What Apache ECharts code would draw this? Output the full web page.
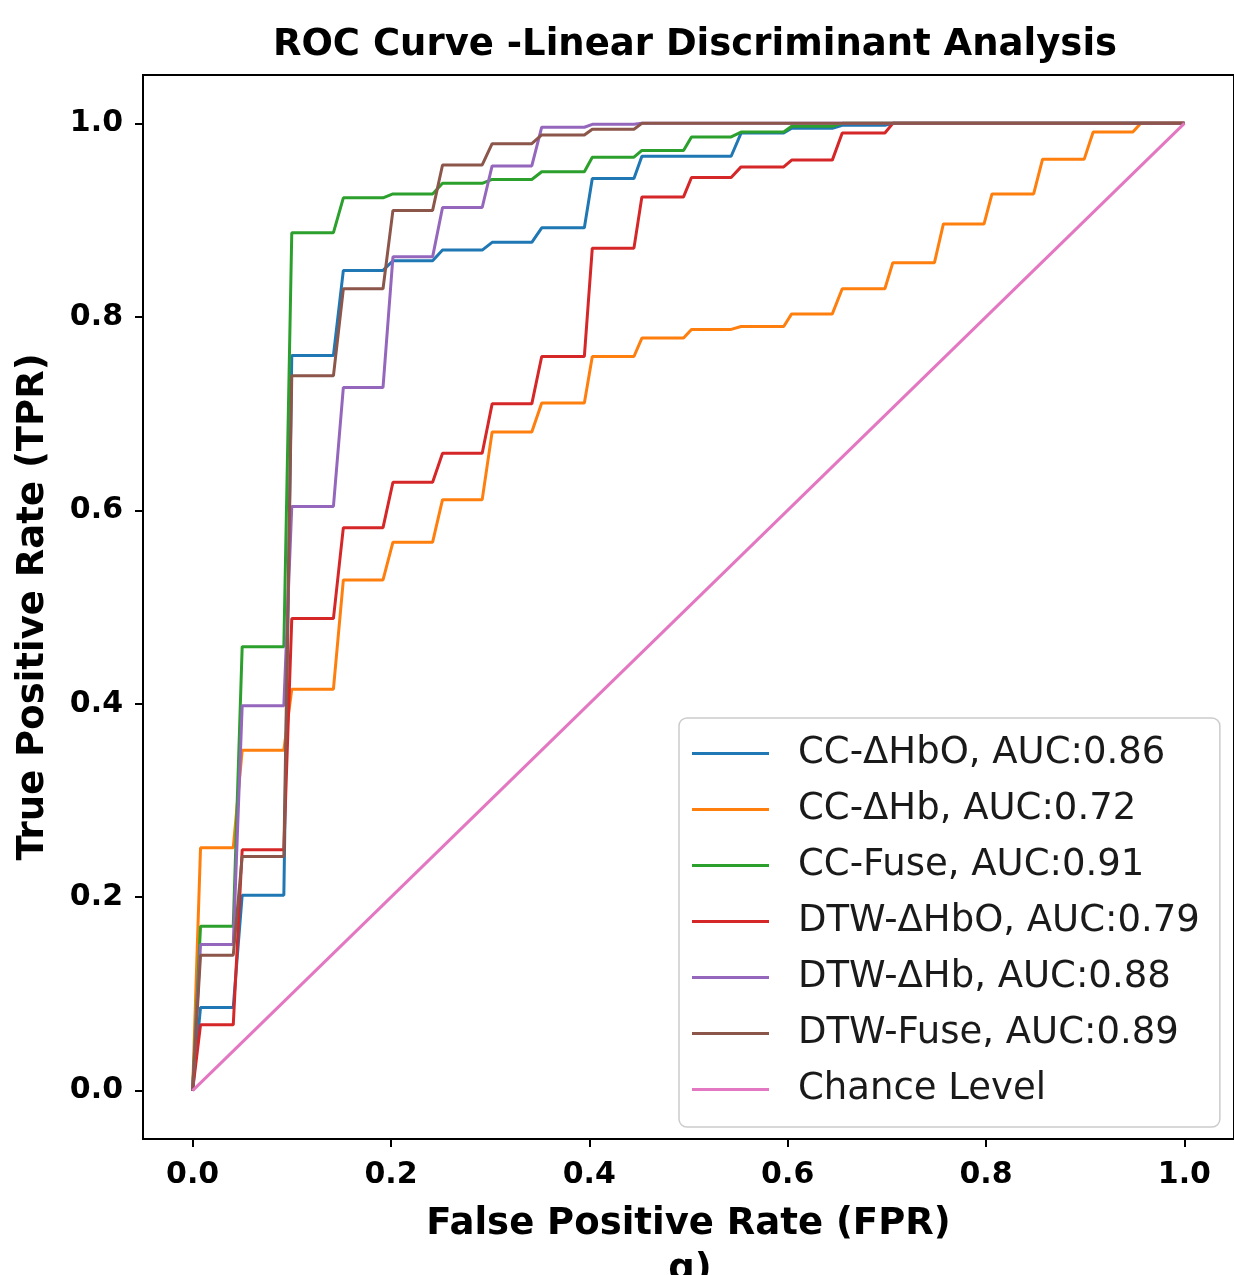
<!DOCTYPE html>
<html>
<head>
<meta charset="utf-8">
<script src="https://cdn.jsdelivr.net/npm/echarts@6/dist/echarts.min.js"></script>
<style>
  html, body { margin: 0; padding: 0; background: #fff; }
  #myChart { width: 1234px; height: 1275px; }
</style>
</head>
<body>
<div id="myChart"></div>
<script>
// fpr where each plateau of the roc curves starts / ends
var stepStart = [0.008, 0.050, 0.100, 0.152, 0.202, 0.252, 0.302, 0.352, 0.403, 0.453, 0.503, 0.553, 0.604, 0.655, 0.706, 0.757, 0.806, 0.857, 0.908, 0.956];
var stepEnd   = [0.041, 0.092, 0.142, 0.192, 0.242, 0.292, 0.342, 0.395, 0.445, 0.495, 0.543, 0.596, 0.645, 0.698, 0.748, 0.798, 0.848, 0.899, 0.948, 1.0];

// tpr on each plateau
var ccHbO   = [0.086, 0.202, 0.760, 0.848, 0.858, 0.869, 0.877, 0.892, 0.943, 0.966, 0.966, 0.990, 0.995, 0.998, 1, 1, 1, 1, 1, 1];
var ccHb    = [0.251, 0.352, 0.415, 0.528, 0.567, 0.611, 0.681, 0.711, 0.759, 0.778, 0.787, 0.790, 0.803, 0.829, 0.856, 0.896, 0.927, 0.963, 0.991, 1];
var ccFuse  = [0.170, 0.459, 0.887, 0.923, 0.927, 0.938, 0.942, 0.950, 0.965, 0.972, 0.986, 0.991, 0.997, 1, 1, 1, 1, 1, 1, 1];
var dtwHbO  = [0.068, 0.249, 0.488, 0.582, 0.629, 0.659, 0.710, 0.759, 0.871, 0.924, 0.944, 0.955, 0.962, 0.990, 1, 1, 1, 1, 1, 1];
var dtwHb   = [0.151, 0.398, 0.604, 0.727, 0.862, 0.913, 0.956, 0.996, 0.999, 1, 1, 1, 1, 1, 1, 1, 1, 1, 1, 1];
var dtwFuse = [0.140, 0.242, 0.739, 0.829, 0.910, 0.957, 0.979, 0.988, 0.994, 1, 1, 1, 1, 1, 1, 1, 1, 1, 1, 1];

var chance = [[0, 0], [1, 1]];

var names = ['CC-ΔHbO, AUC:0.86', 'CC-ΔHb, AUC:0.72', 'CC-Fuse, AUC:0.91',
             'DTW-ΔHbO, AUC:0.79', 'DTW-ΔHb, AUC:0.88', 'DTW-Fuse, AUC:0.89', 'Chance Level'];
var colors = ['#1f77b4', '#ff7f0e', '#2ca02c', '#d62728', '#9467bd', '#8c564b', '#e377c2'];
var ticks = [0, 0.2, 0.4, 0.6, 0.8, 1.0];

var font = 'DejaVu Sans';

function toCurve (levels) {
    var pts = [[0, 0]];
    for (var i = 0; i < levels.length; i++) {
        pts.push([stepStart[i], levels[i]]);
        pts.push([stepEnd[i], levels[i]]);
    }
    return pts;
}

var curves = [ccHbO, ccHb, ccFuse, dtwHbO, dtwHb, dtwFuse].map(toCurve);
curves.push(chance);

var series = [];
for (var i = 0; i < curves.length; i++) {
    series.push({
        name: names[i],
        type: 'line',
        data: curves[i],
        symbol: 'none',
        color: colors[i],
        lineStyle: { width: 3, color: colors[i] },
        animation: false
    });
}

function axisCommon (name, nameGap, labelMargin) {
    return {
        type: 'value',
        min: -0.05,
        max: 1.05,
        name: name,
        nameLocation: 'middle',
        nameGap: nameGap,
        nameTextStyle: { fontFamily: font, fontWeight: 'bold', fontSize: 37, color: '#000' },
        splitLine: { show: false },
        axisLine: { show: true, onZero: false, lineStyle: { color: '#000', width: 2 } },
        axisTick: { show: true, inside: false, length: 8, lineStyle: { color: '#000', width: 2 }, customValues: ticks },
        axisLabel: {
            customValues: ticks,
            margin: labelMargin,
            fontFamily: font, fontWeight: 'bold', fontSize: 30, color: '#000',
            formatter: function (v) { return v.toFixed(1); }
        }
    };
}

var c = document.getElementById('myChart');
var myChart = echarts.init(c);
myChart.setOption({
    backgroundColor: '#fff',
    animation: false,
    title: {
        text: 'ROC Curve -Linear Discriminant Analysis',
        left: 690,
        textAlign: 'center',
        top: 22,
        textStyle: { fontFamily: font, fontWeight: 'bold', fontSize: 37, color: '#000' }
    },
    grid: {
        left: 143, top: 75, width: 1098, height: 1064,
        show: true, borderColor: '#000', borderWidth: 2
    },
    xAxis: axisCommon('False Positive Rate (FPR)', 67, 21),
    yAxis: axisCommon('True Positive Rate (TPR)', 91, 20),
    legend: {
        orient: 'vertical',
        left: 679,
        top: 718,
        padding: [17, 20, 19, 13],
        itemGap: 19,
        icon: 'rect',
        itemWidth: 77,
        itemHeight: 3,
        backgroundColor: 'rgba(255,255,255,0.8)',
        borderColor: '#cccccc',
        borderWidth: 1.5,
        borderRadius: 8,
        textStyle: { fontFamily: font, fontSize: 37, lineHeight: 36, color: '#1a1a1a', padding: [0, 0, 0, 24] },
        data: names
    },
    graphic: [{
        type: 'text',
        x: 690,
        y: 1252,
        style: { text: 'g)', font: 'bold 37px "DejaVu Sans"', fill: '#000', textAlign: 'center', textVerticalAlign: 'top' }
    }],
    series: series
});
</script>
</body>
</html>
